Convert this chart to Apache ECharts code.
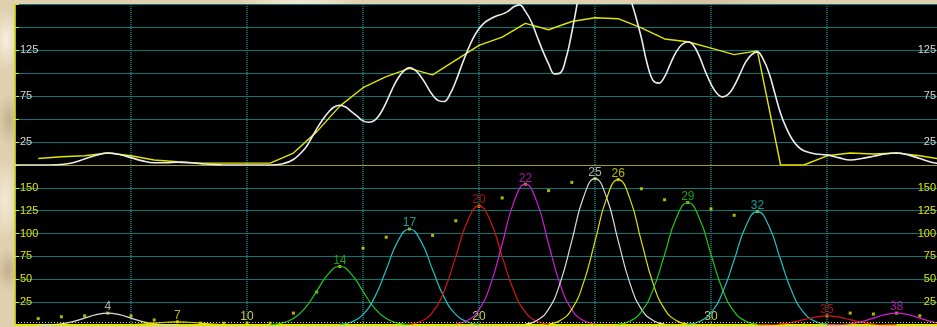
<!DOCTYPE html>
<html>
<head>
<meta charset="utf-8">
<title>Distribution chart</title>
<script src="https://cdn.jsdelivr.net/npm/echarts@6/dist/echarts.min.js"></script>
<style>
  html, body { margin: 0; padding: 0; overflow: hidden; }
  body {
    width: 937px; height: 327px;
    background:
      radial-gradient(ellipse 14px 30px at 6px 40px, rgba(250,244,228,0.9), rgba(250,244,228,0) 100%),
      radial-gradient(ellipse 12px 26px at 9px 120px, rgba(176,150,112,0.55), rgba(176,150,112,0) 100%),
      radial-gradient(ellipse 14px 40px at 5px 200px, rgba(246,238,218,0.9), rgba(246,238,218,0) 100%),
      radial-gradient(ellipse 12px 22px at 8px 270px, rgba(168,140,104,0.5), rgba(168,140,104,0) 100%),
      radial-gradient(ellipse 60px 6px at 300px 2px, rgba(246,238,220,0.9), rgba(246,238,220,0) 100%),
      radial-gradient(ellipse 80px 6px at 700px 2px, rgba(200,180,148,0.6), rgba(200,180,148,0) 100%),
      #e0d0b0;
  }
  #chart { width: 960px; height: 327px; }
</style>
</head>
<body>
<div id="chart"></div>
<script>
// Observed counts per position (top panel line, bottom panel dots)
const positions = [1,2,3,4,5,6,7,8,9,10,11,12,13,14,15,16,17,18,19,20,21,22,23,24,25,26,27,28,29,30,31,32,33,34,35,36,37,38,39,40];
const counts = [7,9,10,13,10,5.5,3.5,2,2,2,2,13,36,64,84,96,105,98,114,130,139,154,147,156,160,159,149,137,134,127,120,124,0,0,10,13,12,13,10,6];

// Fitted envelope (position, value); finer sampling where the curve bends sharply
const envelopeX = [
  0,0.5,1,1.5,2,2.5,3,3.5,4,4.5,5,5.5,6,6.5,7,7.5,8,8.5,9,9.5,10,10.5,11,11.5,12,12.5,
  12.75,13,13.25,13.5,13.75,14,14.25,14.5,14.75,15,15.25,15.5,15.75,16,16.25,16.5,16.75,
  17,17.25,17.5,17.75,18,18.25,18.5,18.75,19,19.25,19.5,19.75,20,20.25,20.5,20.75,
  21,21.25,21.5,21.75,22,22.25,22.5,22.75,23,23.25,23.5,23.75,24,24.25,24.5,24.75,
  25,25.5,26,26.25,26.5,26.75,27,27.25,27.5,27.75,28,28.25,28.5,28.75,
  29,29.25,29.5,29.75,30,30.25,30.5,30.75,31,31.25,31.5,31.75,32,32.25,32.5,32.75,
  33,33.25,33.5,33.75,34,34.5,35,35.5,36,36.5,37,37.5,38,38.5,39,39.5,40
];
const envelopeY = [
  0,0,0,0,0.5,2.5,6.5,10.5,13,11.5,8,4.5,2.5,2.5,3,2.5,1.5,0.5,0,0,0,0,0,1,6,18,
  28,39,49,57,63,65,63,58,53,48,46.5,48.5,56,68,82,94,102,
  106,103,96,86,76,70,69,77,91,108,124,138,148,155,159,162,
  164,167,172,174,167,156,140,124,110,99,100,116,144,178,215,245,
  258,268,255,230,185,162,138,110,92,89,96,110,123,131,
  134,130,118,102,88,78,74,77,86,99,112,120,123,115,100,78,
  56,40,28,20,15.5,12,11,8,5.5,7,9.5,12,13,11,7,3,1
];

// Individual peaks: centre position and curve sampled from centre-3 to centre+3
const peakCenters = [4,7,14,17,20,22,25,26,29,32,35,38];
const peakStep = 0.5;
const peakCurves = [
  [0.1,0.4,1.4,3.7,7.5,11.3,13,11.3,7.5,3.7,1.4,0.4,0.1],
  [0,0.1,0.4,1.0,2.0,3.0,3.5,3.0,2.0,1.0,0.4,0.1,0],
  [0.4,2.0,7.0,18.4,36.8,55.7,64,55.7,36.8,18.4,7.0,2.0,0.4],
  [0.7,3.3,11.4,30.2,60.4,91.5,105,91.5,60.4,30.2,11.4,3.3,0.7],
  [0.9,4.0,14.2,37.4,74.8,113.2,130,113.2,74.8,37.4,14.2,4.0,0.9],
  [1.1,4.8,16.8,44.4,88.6,134.1,154,134.1,88.6,44.4,16.8,4.8,1.1],
  [1.1,5.0,17.4,46.1,92.0,139.4,160,139.4,92.0,46.1,17.4,5.0,1.1],
  [1.1,4.9,17.3,45.8,91.4,138.5,159,138.5,91.4,45.8,17.3,4.9,1.1],
  [0.9,4.2,14.6,38.6,77.1,116.7,134,116.7,77.1,38.6,14.6,4.2,0.9],
  [0.9,3.8,13.5,35.7,71.3,108.0,124,108.0,71.3,35.7,13.5,3.8,0.9],
  [0.1,0.3,1.1,2.9,5.8,8.7,10,8.7,5.8,2.9,1.1,0.3,0.1],
  [0.1,0.4,1.4,3.7,7.5,11.3,13,11.3,7.5,3.7,1.4,0.4,0.1]
];
const peakHalfSpan = 3;

// Reference level of the dotted guide in the lower panel
const guideLevel = 3;

const peakColors = ['#dcdcdc', '#e2e000', '#1ec81e', '#1cc4c4', '#d41414', '#d41cd4'];
const yellow = '#e4e400';
const teal = '#0b7676';
const font = '"Liberation Sans", Arial, sans-serif';

const chart = echarts.init(document.getElementById('chart'), null, { renderer: 'canvas' });

function yAxisFor(grid, side, color, showLabel) {
  return {
    type: 'value', gridIndex: grid, position: side,
    min: 0, max: 175, interval: 25,
    axisLine: { show: side === 'left', lineStyle: { color: yellow, width: 1.5 } },
    axisTick: { show: side === 'left', inside: true, length: 4, lineStyle: { color: yellow } },
    splitLine: { show: side === 'left', lineStyle: { color: teal, width: 1 } },
    axisLabel: {
      inside: true, margin: side === 'left' ? 5 : 7,
      color: color, fontSize: 11, fontFamily: font,
      formatter: v => showLabel(v) ? String(v) : ''
    }
  };
}

function xSplit() {
  return { show: true, lineStyle: { color: '#088484', type: [1, 1], width: 1.5 } };
}

const series = [];

// Lower panel: dots for every observed count
series.push({
  type: 'scatter', xAxisIndex: 1, yAxisIndex: 2,
  symbol: 'rect', symbolSize: 3, itemStyle: { color: yellow },
  data: positions.map((p, i) => [p, counts[i]]),
  z: 2,
  markLine: {
    silent: true, symbol: 'none', label: { show: false },
    lineStyle: { color: yellow, type: [1, 2], width: 1 },
    data: [{ yAxis: guideLevel }]
  }
});

// Lower panel: one bell curve per peak
peakCenters.forEach((c, i) => {
  const vals = peakCurves[i];
  series.push({
    type: 'line', xAxisIndex: 1, yAxisIndex: 2,
    smooth: true, showSymbol: false, symbol: 'none',
    lineStyle: { color: peakColors[i % 6], width: 1.2 },
    data: vals.map((v, k) => [c - peakHalfSpan + k * peakStep, v]),
    z: 3
  });
});

// Lower panel: peak position labels
series.push({
  type: 'scatter', xAxisIndex: 1, yAxisIndex: 2,
  symbolSize: 0,
  data: peakCenters.map((c, i) => ({
    value: [c, Math.max.apply(null, peakCurves[i])],
    label: { color: peakColors[i % 6] }
  })),
  label: {
    show: true, position: 'top', distance: 0,
    fontSize: 12, fontFamily: font,
    formatter: p => String(p.value[0])
  },
  z: 4
});

// Upper panel: observed counts as a line
series.push({
  type: 'line', xAxisIndex: 0, yAxisIndex: 0,
  showSymbol: false, symbol: 'none',
  lineStyle: { color: yellow, width: 1.4 },
  data: positions.map((p, i) => [p, counts[i]]),
  z: 3
});

// Upper panel: fitted envelope
series.push({
  type: 'line', xAxisIndex: 0, yAxisIndex: 0,
  smooth: 0.4, showSymbol: false, symbol: 'none',
  lineStyle: { color: '#ececec', width: 1.6 },
  data: envelopeX.map((x, k) => [x, envelopeY[k]]),
  z: 4
});

chart.setOption({
  animation: false,
  backgroundColor: 'transparent',
  grid: [
    { left: 15, right: 17, top: 4, height: 161, show: true, backgroundColor: '#000', borderWidth: 0 },
    { left: 15, right: 17, top: 165, height: 160, show: true, backgroundColor: '#000', borderWidth: 0 }
  ],
  xAxis: [
    {
      type: 'value', gridIndex: 0, position: 'top', min: 0, max: 40, interval: 5,
      axisLine: { show: true, lineStyle: { color: '#a09c20', width: 1 } },
      axisTick: { show: false }, axisLabel: { show: false },
      splitLine: xSplit()
    },
    {
      type: 'value', gridIndex: 1, position: 'bottom', min: 0, max: 40, interval: 5,
      axisLine: { show: true, lineStyle: { color: yellow, width: 2 } },
      axisTick: { show: false },
      axisLabel: {
        inside: true, margin: 2, color: '#cfcb58', fontSize: 12, fontFamily: font,
        verticalAlign: 'bottom',
        formatter: v => (v % 10 === 0 && v > 0 && v < 40) ? String(v) : ''
      },
      splitLine: xSplit()
    }
  ],
  yAxis: [
    yAxisFor(0, 'left', '#d8d8d8', v => v % 50 === 25 && v < 175),
    yAxisFor(0, 'right', '#d8d8d8', v => v % 50 === 25 && v < 175),
    yAxisFor(1, 'left', yellow, v => v > 0 && v < 175),
    yAxisFor(1, 'right', yellow, v => v > 0 && v < 175)
  ],
  series: series
});
</script>
</body>
</html>
